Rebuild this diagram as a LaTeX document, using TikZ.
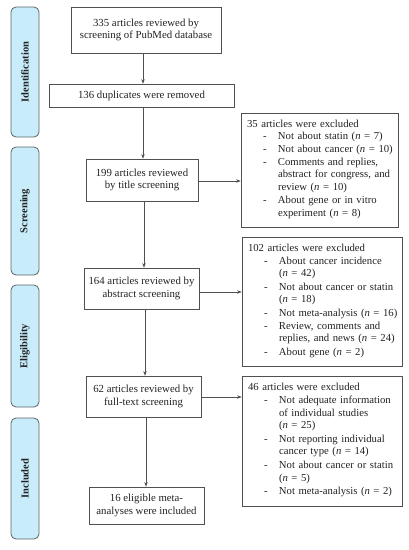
\documentclass[tikz,border=0pt]{standalone}
\usepackage{fontspec}
\setmainfont{Liberation Serif}
\usetikzlibrary{arrows.meta}
\definecolor{phasefill}{HTML}{C8ECFA}
\definecolor{phasedraw}{HTML}{5A6468}
\definecolor{boxdraw}{HTML}{505050}
\definecolor{txt}{HTML}{222222}
\newcommand\itm[1]{\par\noindent\hspace*{16pt}\makebox[15pt][l]{-}\begin{tabular}[t]{@{}l@{}}#1\end{tabular}}
\newcommand\nn{\textit{n}}
\tikzset{
  phase/.style={draw=phasedraw, fill=phasefill, rounded corners=5pt, line width=0.8pt,
    minimum width=28pt, inner sep=0pt, text=txt, font=\fontsize{10.5}{12}\selectfont\bfseries},
  mainbox/.style={draw=boxdraw, line width=0.7pt, align=center, inner sep=2pt, text=txt,
    font=\fontsize{10.8}{12.6}\selectfont},
  excbox/.style={draw=boxdraw, line width=0.7pt, align=left, inner xsep=6pt, inner ysep=3pt, text=txt,
    font=\fontsize{10.7}{12.6}\selectfont},
  arr/.style={-{Stealth[length=4.5pt,width=3.5pt]}, line width=0.6pt, draw=boxdraw},
}
\begin{document}
\begin{tikzpicture}[x=1pt,y=-1pt]
\useasboundingbox (0,0) rectangle (409,550);
% phases
\node[phase, minimum height=130pt] (pI) at (25,72) {\rotatebox{90}{Identification}};
\node[phase, minimum height=128pt] (pS) at (25,211) {\rotatebox{90}{Screening}};
\node[phase, minimum height=122pt] (pE) at (25,346) {\rotatebox{90}{Eligibility}};
\node[phase, minimum height=121pt] (pN) at (25,478.5) {\rotatebox{90}{Included}};
% main boxes
\node[mainbox, minimum width=150pt, minimum height=46pt] (b1) at (146,30) {335 articles reviewed by\\screening of PubMed database};
\node[mainbox, minimum width=185pt, minimum height=23pt] (b2) at (141.5,95.5) {136 duplicates were removed};
\node[mainbox, minimum width=112pt, minimum height=42pt] (b3) at (142,180) {199 articles reviewed\\by title screening};
\node[mainbox, minimum width=115pt, minimum height=41pt] (b4) at (141.5,288.5) {164 articles reviewed by\\abstract screening};
\node[mainbox, minimum width=115pt, minimum height=41pt] (b5) at (143.5,396.5) {62 articles reviewed by\\full-text screening};
\node[mainbox, minimum width=115pt, minimum height=37pt] (b6) at (146.5,505.5) {16 eligible meta-\\analyses were included};
% exclusion boxes
\node[excbox, text width=145pt, minimum height=114pt] (e1) at (319.5,170) {%
\noindent 35 articles were excluded
\itm{Not about statin (\nn{} = 7)}
\itm{Not about cancer (\nn{} = 10)}
\itm{Comments and replies,\\ abstract for congress, and\\ review (\nn{} = 10)}
\itm{About gene or in vitro\\ experiment (\nn{} = 8)}};
\node[excbox, text width=148pt, minimum height=129pt] (e2) at (322,301.5) {%
\noindent 102 articles were excluded
\itm{About cancer incidence\\ (\nn{} = 42)}
\itm{Not about cancer or statin\\ (\nn{} = 18)}
\itm{Not meta-analysis (\nn{} = 16)}
\itm{Review, comments and\\ replies, and news (\nn{} = 24)}
\itm{About gene (\nn{} = 2)}};
\node[excbox, text width=148pt, minimum height=130pt] (e3) at (322,441) {%
\noindent 46 articles were excluded
\itm{Not adequate information\\ of individual studies\\ (\nn{} = 25)}
\itm{Not reporting individual\\ cancer type (\nn{} = 14)}
\itm{Not about cancer or statin\\ (\nn{} = 5)}
\itm{Not meta-analysis (\nn{} = 2)}};
% arrows
\draw[arr] (b1.south -| 143,0) -- (b2.north -| 143,0);
\draw[arr] (b2.south -| 143,0) -- (b3.north -| 143,0);
\draw[arr] (b3.south -| 144,0) -- (b4.north -| 144,0);
\draw[arr] (b4.south -| 145,0) -- (b5.north -| 145,0);
\draw[arr] (b5.south -| 146,0) -- (b6.north -| 146,0);
\draw[arr] (b3.east |- 0,181) -- (e1.west |- 0,181);
\draw[arr] (b4.east |- 0,292) -- (e2.west |- 0,292);
\draw[arr] (b5.east |- 0,397) -- (e3.west |- 0,397);
\end{tikzpicture}
\end{document}
